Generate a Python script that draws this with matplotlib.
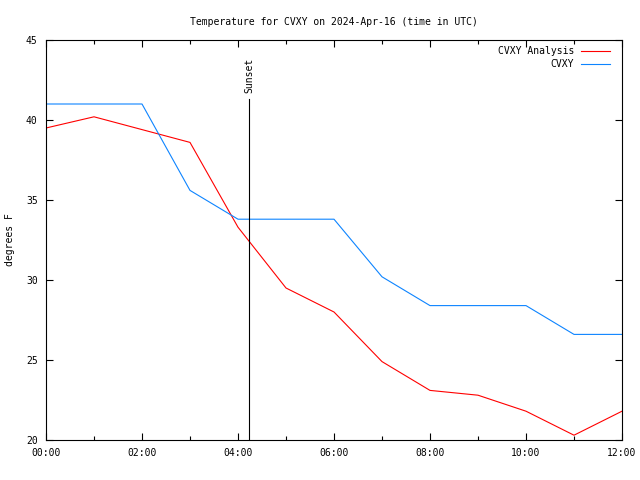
import numpy as np
import matplotlib.pyplot as plt
import matplotlib as mpl

mpl.rcParams['font.family'] = ['DejaVu Sans Mono']
mpl.rcParams['font.size'] = 7

# 每小时数据 (UTC)
hours = [0, 1, 2, 3, 4, 5, 6, 7, 8, 9, 10, 11, 12]
analysis = [39.5, 40.2, 39.4, 38.6, 33.3, 29.5, 28.0, 24.9, 23.1, 22.8, 21.8, 20.3, 21.8]
obs = [41.0, 41.0, 41.0, 35.6, 33.8, 33.8, 33.8, 30.2, 28.4, 28.4, 28.4, 26.6, 26.6]
sunset_hr = 4.23
tick_hours = [0, 2, 4, 6, 8, 10, 12]
tick_labels = ['00:00', '02:00', '04:00', '06:00', '08:00', '10:00', '12:00']

fig = plt.figure(figsize=(6.4, 4.8), dpi=100)
ax = fig.add_axes([46/640, 40/480, 576/640, 400/480])

ax.plot(hours, analysis, color='#ff0000', lw=0.8, label='CVXY Analysis')
ax.plot(hours, obs, color='#0d84ff', lw=0.8, label='CVXY')

# 日落线
ax.plot([sunset_hr, sunset_hr], [20, 41.3], color='black', lw=0.8)
ax.text(sunset_hr, 41.7, 'Sunset', rotation=90, ha='center', va='bottom')

ax.set_xlim(0, 12)
ax.set_ylim(20, 45)
ax.set_xticks(tick_hours)
ax.set_xticklabels(tick_labels)
ax.set_xticks([1, 3, 5, 7, 9, 11], minor=True)
ax.set_yticks([20, 25, 30, 35, 40, 45])
ax.tick_params(direction='in', top=True, right=True, length=5, width=0.8, pad=6)
ax.tick_params(which='minor', direction='in', top=True, length=3, width=0.8)
for s in ax.spines.values():
    s.set_linewidth(0.8)

fig.text(10/640, 0.5, 'degrees F', rotation=90, ha='center', va='center')
ax.set_title('Temperature for CVXY on 2024-Apr-16 (time in UTC)', fontsize=7, pad=11)

leg = ax.legend(loc='upper right', frameon=False, markerfirst=False,
                handlelength=3.0, handletextpad=0.7, labelspacing=0.35,
                borderaxespad=0, borderpad=0,
                bbox_to_anchor=(1 - 12/576, 1 - 6/400))
for t in leg.get_texts():
    t.set_ha('right')

fig.savefig('out.png', dpi=100)
